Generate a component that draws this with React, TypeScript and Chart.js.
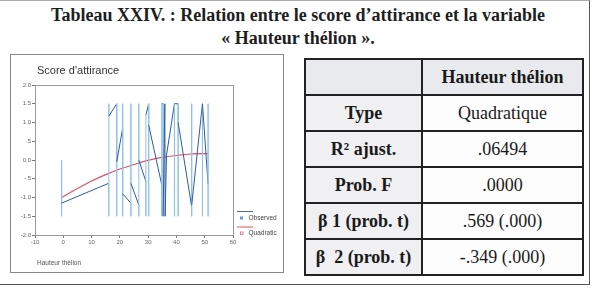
import React, { useEffect, useRef } from 'react';
import { Chart, registerables } from 'chart.js';

Chart.register(...registerables);

// ---------- data ----------
const titleLines = ["Tableau XXIV. : Relation entre le score d\u2019attirance et la variable", "\u00ab Hauteur th\u00e9lion \u00bb."];
const chartTitle = "Score d'attirance";
const xAxisTitle = 'Hauteur th\u00e9lion';
const xTickLabels = ['-10', '0', '10', '20', '30', '40', '50', '60'];
const yTickLabels = ['-2.0', '-1.5', '-1.0', '-.5', '0.0', '.5', '1.0', '1.5', '2.0'];
const legendLabels = ['Observed', 'Quadratic'];

// observed scores, in the order SPSS connects them (sorted by x)
const observedX = [
  -0.6, -0.6, -0.6,
  16.1, 16.1, 16.1, 16.1,
  18.9, 18.9, 18.9,
  21.0, 21.0, 21.0, 21.0,
  23.9, 23.9, 23.9, 23.9,
  26.7, 26.7, 26.7, 26.7,
  29.2, 29.2, 29.2,
  30.2, 30.2, 30.2, 30.2,
  34.8, 34.8, 34.8,
  35.3, 35.3, 35.9, 36.0, 36.5,
  39.3, 39.3, 39.3,
  40.6, 40.6, 40.6, 40.6,
  45.4, 45.4, 45.4, 45.4,
  49.2, 49.2, 49.2,
  51.2, 51.2, 51.2, 51.2,
];
const observedY = [
  0.0, -1.5, -1.15,
  -0.62, -1.5, 1.5, 1.17,
  1.5, -1.5, -0.05,
  0.85, 1.5, -1.5, -0.9,
  -1.15, -1.5, 1.5, -0.62,
  -1.2, -1.5, 1.5, 0.0,
  -0.57, -1.5, 1.2,
  1.5, -1.5, 1.5, 0.93,
  -0.66, -1.5, 1.5,
  1.5, -1.5, 1.5, -1.5, 0.13,
  1.5, -1.5, 1.5,
  1.5, -1.5, 1.5, 1.0,
  -1.25, 1.5, -1.5, -1.2,
  1.5, -1.5, 1.5,
  -0.65, 1.5, -1.5, -0.6,
];

// fitted quadratic curve
const quadraticX = [-0.6, 5, 10, 15, 20, 25, 30, 35, 40, 45, 51.2];
const quadraticY = [-1.0, -0.76, -0.56, -0.39, -0.24, -0.12, -0.01, 0.07, 0.12, 0.16, 0.17];

// table
const tableHeader = 'Hauteur th\u00e9lion';
const tableRowLabels = ['Type', 'R\u00b2 ajust.', 'Prob. F', '\u03b2 1 (prob. t)', '\u03b2\u00a0 2 (prob. t)'];
const tableValues = ['Quadratique', '.06494', '.0000', '.569 (.000)', '-.349 (.000)'];

// ---------- styles ----------
const DARK_BLUE = '#2d5c9f';
const LIGHT_BLUE = '#8dc1e7';
const RED = '#e2505f';
const SANS = '"Liberation Sans", Arial, sans-serif';
const SERIF = '"Liberation Serif", "Times New Roman", serif';

const framePlugin = {
  id: 'plotFrame',
  beforeDatasetsDraw(chart: any) {
    const { ctx, chartArea } = chart;
    ctx.save();
    ctx.strokeStyle = '#9a9a9a';
    ctx.lineWidth = 1;
    ctx.strokeRect(
      Math.round(chartArea.left) + 0.5,
      Math.round(chartArea.top) + 0.5,
      Math.round(chartArea.right - chartArea.left),
      Math.round(chartArea.bottom - chartArea.top)
    );
    ctx.restore();
  },
};

const textPlugin = {
  id: 'panelTexts',
  afterDraw(chart: any) {
    const { ctx, chartArea } = chart;
    ctx.save();
    ctx.fillStyle = '#333';
    ctx.textBaseline = 'middle';
    ctx.textAlign = 'left';
    ctx.font = `11px ${SANS}`;
    ctx.fillText(chartTitle, 26, 15.5);
    ctx.fillStyle = '#555';
    ctx.font = `6.5px ${SANS}`;
    ctx.fillText(xAxisTitle, 26, 208);

    // legend
    const ds = chart.data.datasets;
    const x0 = chartArea.right + 4;
    const rows = [chartArea.bottom - 24, chartArea.bottom - 8.5];
    ds.forEach((d: any, i: number) => {
      const yl = rows[i];
      ctx.strokeStyle = i === 0 ? '#55698f' : RED;
      ctx.lineWidth = 1;
      ctx.beginPath();
      ctx.moveTo(x0, yl + 0.5);
      ctx.lineTo(x0 + 16, yl + 0.5);
      ctx.stroke();
      const ym = yl + 7;
      if (i === 0) {
        ctx.fillStyle = '#5f9ed6';
        ctx.fillRect(x0 + 3, ym - 1.5, 3, 3);
      } else {
        ctx.strokeStyle = '#ec7f8c';
        ctx.strokeRect(x0 + 3.5, ym - 1.5, 2.5, 2.5);
      }
      ctx.fillStyle = '#444';
      ctx.font = `6.5px ${SANS}`;
      ctx.fillText(d.label, x0 + 11.5, ym);
    });
    ctx.restore();
  },
};

export default function App() {
  const canvasRef = useRef<HTMLCanvasElement>(null);

  useEffect(() => {
    const canvas = canvasRef.current;
    if (!canvas) return;
    const observedPts = observedX.map((x, i) => ({ x, y: observedY[i] }));
    const quadPts = quadraticX.map((x, i) => ({ x, y: quadraticY[i] }));
    const tickFont = { family: SANS, size: 6 };
    const chart = new Chart(canvas, {
      type: 'scatter',
      data: {
        datasets: [
          {
            label: legendLabels[0],
            data: observedPts,
            showLine: true,
            pointRadius: 0,
            borderWidth: 1,
            borderColor: DARK_BLUE,
            backgroundColor: DARK_BLUE,
            segment: {
              borderColor: (c: any) => (c.p0.parsed.x === c.p1.parsed.x ? LIGHT_BLUE : DARK_BLUE),
            },
          } as any,
          {
            label: legendLabels[1],
            data: quadPts,
            showLine: true,
            pointRadius: 0,
            borderWidth: 1.2,
            borderColor: RED,
            backgroundColor: RED,
            cubicInterpolationMode: 'monotone',
          } as any,
        ],
      },
      options: {
        responsive: false,
        animation: false,
        devicePixelRatio: 1,
        layout: { padding: { left: 0, top: 30, right: 50, bottom: 0 } },
        plugins: { legend: { display: false }, tooltip: { enabled: false } },
        scales: {
          x: {
            type: 'linear',
            min: -10,
            max: 60,
            afterFit: (s: any) => { s.height = 37; },
            ticks: {
              stepSize: 10,
              autoSkip: false,
              maxRotation: 0,
              padding: 1,
              color: '#666',
              font: tickFont,
              callback: (_v: any, i: number) => xTickLabels[i],
            },
            grid: { drawOnChartArea: false, drawTicks: true, tickLength: 3, color: '#777' },
            border: { display: true, color: '#666', width: 1 },
          },
          y: {
            type: 'linear',
            min: -2,
            max: 2,
            afterFit: (s: any) => { s.width = 24; },
            ticks: {
              stepSize: 0.5,
              autoSkip: false,
              padding: 1,
              color: '#666',
              font: tickFont,
              callback: (_v: any, i: number) => yTickLabels[i],
            },
            grid: { drawOnChartArea: false, drawTicks: true, tickLength: 3, color: '#777' },
            border: { display: true, color: '#666', width: 1 },
          },
        },
      },
      plugins: [framePlugin, textPlugin],
    });
    return () => chart.destroy();
  }, []);

  const border = '2px solid #222';
  const headBg = '#e9eaee';
  const leftBg = '#f0f0f2';
  const cellBase: React.CSSProperties = {
    border,
    textAlign: 'center',
    verticalAlign: 'middle',
    padding: 0,
    height: 34,
  };

  return (
    <div style={{ position: 'fixed', left: 0, top: 0, width: 596, height: 291, background: '#fff', overflow: 'hidden' }}>
      {/* outer frame */}
      <div style={{ position: 'absolute', left: -4, top: 0, width: 594, height: 285, borderTop: '1px solid #aaa', borderRight: '1.5px solid #555', borderBottom: '1.5px solid #555', boxSizing: 'border-box' }} />
      {/* title */}
      <div style={{ position: 'absolute', left: 0, top: 4, width: 596, textAlign: 'center', fontFamily: SERIF, fontWeight: 'bold', fontSize: 18, lineHeight: '23px', color: '#1e1e1e' }}>
        {titleLines.map((t, i) => (<div key={i}>{t}</div>))}
      </div>
      {/* chart panel */}
      <div style={{ position: 'absolute', left: 10, top: 54, width: 272, height: 217, border: '1px solid #888' }}>
        <canvas ref={canvasRef} width={272} height={217} style={{ display: 'block', width: 272, height: 217 }} />
      </div>
      {/* table */}
      <table style={{ position: 'absolute', left: 304, top: 58, width: 280, borderCollapse: 'collapse', fontFamily: SERIF, fontSize: 18, color: '#1a1a1a' }}>
        <tbody>
          <tr>
            <td style={{ ...cellBase, width: 115, background: headBg }}></td>
            <td style={{ ...cellBase, background: headBg, fontWeight: 'bold' }}>{tableHeader}</td>
          </tr>
          {tableRowLabels.map((lab, i) => (
            <tr key={i}>
              <td style={{ ...cellBase, background: leftBg, fontWeight: 'bold' }}>{lab}</td>
              <td style={{ ...cellBase, background: '#fdfdfd' }}>{tableValues[i]}</td>
            </tr>
          ))}
        </tbody>
      </table>
    </div>
  );
}
